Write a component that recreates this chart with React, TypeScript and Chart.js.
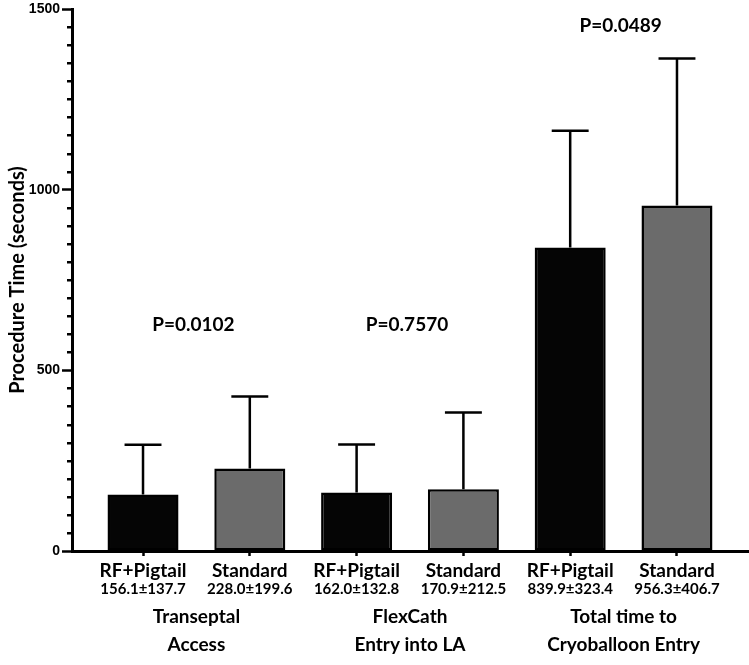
import React, { useEffect, useRef } from 'react';
import { Chart, registerables } from 'chart.js';

Chart.register(...registerables);

// ---- data ----
const barLabels = ['RF+Pigtail', 'Standard', 'RF+Pigtail', 'Standard', 'RF+Pigtail', 'Standard'];
const means = [156.1, 228.0, 162.0, 170.9, 839.9, 956.3];
const sds = [137.7, 199.6, 132.8, 212.5, 323.4, 406.7];
const groupLabels = [
  ['Transeptal', 'Access'],
  ['FlexCath', 'Entry into LA'],
  ['Total time to', 'Cryoballoon Entry'],
];
const pValues = ['P=0.0102', 'P=0.7570', 'P=0.0489'];
const yTicks = [0, 500, 1000, 1500];
const yMinorStep = 50;

// annotation anchors (value units on the y axis)
const pValueAnchors = [610, 610, 1437];

const LABEL_FONT = 'Lato';
const W = 'bold';

const annotatePlugin = {
  id: 'annotate',
  afterDatasetsDraw(chart: any) {
    const { ctx } = chart;
    const x = chart.scales.x;
    const y = chart.scales.y;
    const meta = chart.getDatasetMeta(0);
    ctx.save();
    ctx.strokeStyle = '#000';
    ctx.lineWidth = 2.5;
    ctx.lineCap = 'butt';
    means.forEach((m, i) => {
      const el = meta.data[i];
      const cx = x.getPixelForValue(i);
      const y0 = y.getPixelForValue(m);
      const y1 = y.getPixelForValue(m + sds[i]);
      const half = el.width * 0.26;
      ctx.beginPath();
      ctx.moveTo(cx, y0);
      ctx.lineTo(cx, y1);
      ctx.moveTo(cx - half, y1);
      ctx.lineTo(cx + half, y1);
      ctx.stroke();
    });
    ctx.restore();
  },
  afterDraw(chart: any) {
    const { ctx } = chart;
    const x = chart.scales.x;
    const y = chart.scales.y;
    ctx.save();
    // minor y ticks
    ctx.strokeStyle = '#000';
    ctx.lineWidth = 2.5;
    const axisX = chart.chartArea.left;
    for (let v = y.min; v <= y.max; v += yMinorStep) {
      if (yTicks.includes(v)) continue;
      const py = Math.round(y.getPixelForValue(v)) + 0.25;
      ctx.beginPath();
      ctx.moveTo(axisX - 5, py);
      ctx.lineTo(axisX, py);
      ctx.stroke();
    }
    // bar labels
    ctx.fillStyle = '#000';
    ctx.textAlign = 'center';
    ctx.textBaseline = 'alphabetic';
    const top = x.top;
    barLabels.forEach((lab, i) => {
      const cx = x.getPixelForValue(i);
      ctx.font = `${W} 19px ${LABEL_FONT}`;
      ctx.fillText(lab, cx, top + 26);
      ctx.font = `${W} 15px ${LABEL_FONT}`;
      ctx.fillText(`${means[i].toFixed(1)}±${sds[i].toFixed(1)}`, cx, top + 43);
    });
    // group labels
    ctx.font = `${W} 19px ${LABEL_FONT}`;
    groupLabels.forEach((lines, g) => {
      const cx = (x.getPixelForValue(g * 2) + x.getPixelForValue(g * 2 + 1)) / 2;
      lines.forEach((line, k) => {
        ctx.fillText(line, cx, top + 72 + k * 28);
      });
    });
    // p values
    pValues.forEach((p, g) => {
      const cx = (x.getPixelForValue(g * 2) + x.getPixelForValue(g * 2 + 1)) / 2 - 3;
      ctx.fillText(p, cx, y.getPixelForValue(pValueAnchors[g]));
    });
    ctx.restore();
  },
};

export default function App() {
  const ref = useRef<HTMLCanvasElement | null>(null);
  useEffect(() => {
    if (!ref.current) return;
    const chart = new Chart(ref.current, {
      type: 'bar',
      data: {
        datasets: [
          {
            data: means.map((m, i) => ({ x: i, y: m })),
            backgroundColor: means.map((_, i) => (i % 2 ? '#6b6b6b' : '#050505')),
            borderColor: '#000',
            borderWidth: 2.5,
            borderSkipped: false,
            barPercentage: 0.665,
            categoryPercentage: 1,
          },
        ],
      },
      options: {
        animation: false,
        responsive: false,
        maintainAspectRatio: false,
        layout: { padding: { top: 7, right: 1, left: 0, bottom: 0 } },
        plugins: { legend: { display: false }, tooltip: { enabled: false } },
        scales: {
          x: {
            type: 'linear',
            min: -0.665,
            max: barLabels.length - 1 + 0.665,
            offset: false,
            afterBuildTicks: (s: any) => {
              s.ticks = barLabels.map((_, i) => ({ value: i }));
            },
            afterFit: (s: any) => {
              s.height = 114;
            },
            ticks: { display: false },
            grid: {
              display: true,
              offset: false,
              drawOnChartArea: false,
              drawTicks: true,
              tickLength: 5,
              tickWidth: 2.5,
              tickColor: '#000',
            },
            border: { display: true, color: '#000', width: 3 },
          },
          y: {
            type: 'linear',
            min: 0,
            max: 1500,
            afterBuildTicks: (s: any) => {
              s.ticks = yTicks.map((v) => ({ value: v }));
            },
            afterFit: (s: any) => {
              s.width = 72;
            },
            ticks: {
              callback: (v: any) => String(v),
              font: { family: 'Liberation Sans', weight: 'bold', size: 14, lineHeight: 1 },
              color: '#000',
              padding: 2,
            },
            grid: {
              drawOnChartArea: false,
              drawTicks: true,
              tickLength: 10,
              tickWidth: 2.5,
              tickColor: '#000',
            },
            border: { display: true, color: '#000', width: 3 },
            title: {
              display: true,
              text: 'Procedure Time (seconds)',
              font: { family: LABEL_FONT, size: 20, weight: W },
              color: '#000',
              padding: { top: 6, bottom: 0 },
            },
          },
        },
      },
      plugins: [annotatePlugin],
    } as any);
    return () => chart.destroy();
  }, []);
  return (
    <div style={{ position: 'fixed', left: 0, top: 0, width: 749, height: 665, background: '#fff' }}>
      <canvas ref={ref} width={749} height={665} style={{ display: 'block', width: 749, height: 665 }} />
    </div>
  );
}
